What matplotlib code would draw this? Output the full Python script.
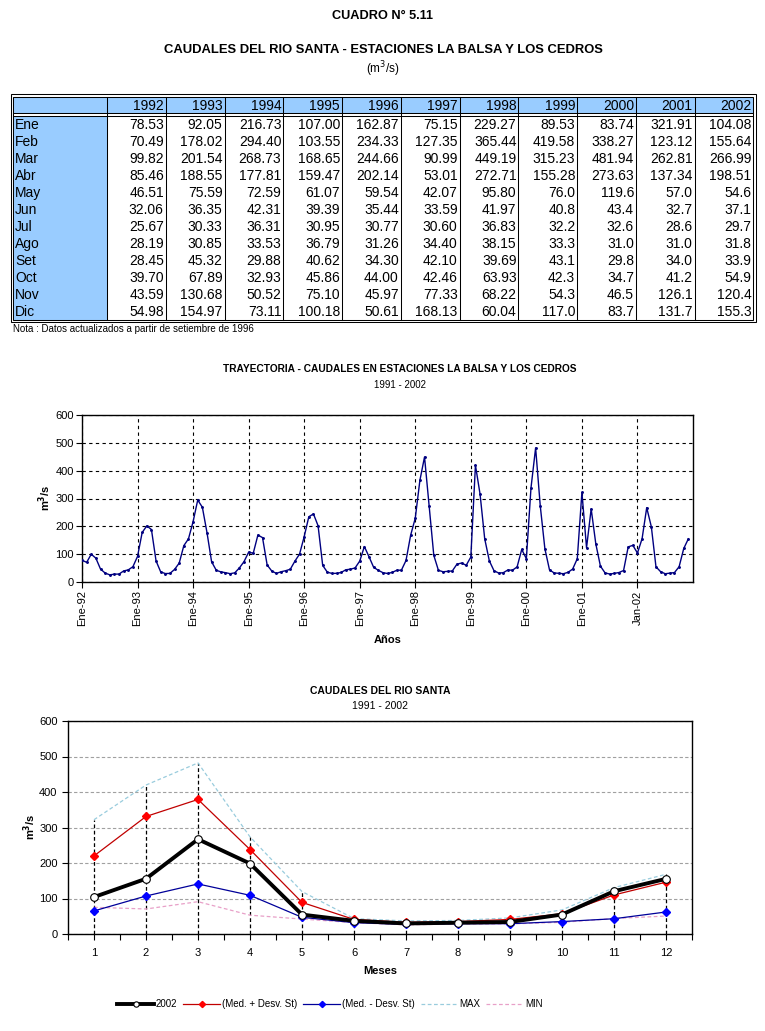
import numpy as np
import matplotlib.pyplot as plt
from matplotlib.patches import Rectangle

W, H = 765, 1031

# ---- datos del cuadro (m3/s) ----
anios = ['1992', '1993', '1994', '1995', '1996', '1997', '1998', '1999', '2000', '2001', '2002']
meses = ['Ene', 'Feb', 'Mar', 'Abr', 'May', 'Jun', 'Jul', 'Ago', 'Set', 'Oct', 'Nov', 'Dic']

q1992 = ['78.53', '70.49', '99.82', '85.46', '46.51', '32.06', '25.67', '28.19', '28.45', '39.70', '43.59', '54.98']
q1993 = ['92.05', '178.02', '201.54', '188.55', '75.59', '36.35', '30.33', '30.85', '45.32', '67.89', '130.68', '154.97']
q1994 = ['216.73', '294.40', '268.73', '177.81', '72.59', '42.31', '36.31', '33.53', '29.88', '32.93', '50.52', '73.11']
q1995 = ['107.00', '103.55', '168.65', '159.47', '61.07', '39.39', '30.95', '36.79', '40.62', '45.86', '75.10', '100.18']
q1996 = ['162.87', '234.33', '244.66', '202.14', '59.54', '35.44', '30.77', '31.26', '34.30', '44.00', '45.97', '50.61']
q1997 = ['75.15', '127.35', '90.99', '53.01', '42.07', '33.59', '30.60', '34.40', '42.10', '42.46', '77.33', '168.13']
q1998 = ['229.27', '365.44', '449.19', '272.71', '95.80', '41.97', '36.83', '38.15', '39.69', '63.93', '68.22', '60.04']
q1999 = ['89.53', '419.58', '315.23', '155.28', '76.0', '40.8', '32.2', '33.3', '43.1', '42.3', '54.3', '117.0']
q2000 = ['83.74', '338.27', '481.94', '273.63', '119.6', '43.4', '32.6', '31.0', '29.8', '34.7', '46.5', '83.7']
q2001 = ['321.91', '123.12', '262.81', '137.34', '57.0', '32.7', '28.6', '31.0', '34.0', '41.2', '126.1', '131.7']
q2002 = ['104.08', '155.64', '266.99', '198.51', '54.6', '37.1', '29.7', '31.8', '33.9', '54.9', '120.4', '155.3']
columnas = [q1992, q1993, q1994, q1995, q1996, q1997, q1998, q1999, q2000, q2001, q2002]

# ---- grafico de trayectoria ----
ticks_tray = ['Ene-92', 'Ene-93', 'Ene-94', 'Ene-95', 'Ene-96', 'Ene-97',
              'Ene-98', 'Ene-99', 'Ene-00', 'Ene-01', 'Jan-02']
serie_tray = [float(v) for col in columnas for v in col]

# ---- grafico mensual ----
mes_num = [1, 2, 3, 4, 5, 6, 7, 8, 9, 10, 11, 12]
serie_2002 = [float(v) for v in q2002]
med_mas = [220, 331, 379, 238, 89, 41, 33, 35, 41, 57, 110, 146]
med_menos = [65, 107, 141, 109, 47, 32, 27, 29, 29, 35, 43, 62]
q_max = [321.91, 419.58, 481.94, 273.63, 119.6, 43.4, 36.83, 38.15, 45.32, 67.89, 130.68, 168.13]
q_min = [75.15, 70.49, 90.99, 53.01, 42.07, 32.06, 25.67, 28.19, 28.45, 32.93, 43.59, 50.61]

ARIAL = ['Liberation Sans', 'DejaVu Sans']
plt.rcParams['font.family'] = ARIAL

fig = plt.figure(figsize=(W / 100, H / 100), dpi=100)
fig.patch.set_facecolor('white')

# capa en pixeles para el cuadro y los textos
ov = fig.add_axes([0, 0, 1, 1])
ov.set_xlim(0, W)
ov.set_ylim(H, 0)
ov.axis('off')

ov.text(383, 16, 'CUADRO N° 5.11', ha='center', va='center', fontsize=9.2, fontweight='bold')
ov.text(383, 50, 'CAUDALES DEL RIO SANTA - ESTACIONES LA BALSA Y LOS CEDROS', ha='center',
        va='center', fontsize=9.4, fontweight='bold')
ov.text(383, 69, '(m$^3$/s)', ha='center', va='center', fontsize=8.5)

# tabla
celeste = '#99CCFF'
x0, x1 = 13.5, 753.5
y0, y1 = 96.5, 319.5
col1 = 107
ancho = (x1 - col1) / len(anios)
y_head = 113
y_body = 115.5
alto = (y1 - y_body) / len(meses)
lw1 = 0.75

ov.add_patch(Rectangle((x0, y0), x1 - x0, y_head - y0, facecolor=celeste, edgecolor='none'))
ov.add_patch(Rectangle((x0, y_body), col1 - x0, y1 - y_body, facecolor=celeste, edgecolor='none'))
ov.add_patch(Rectangle((11, 94), 745, 228, facecolor='none', edgecolor='black', lw=lw1))
ov.add_patch(Rectangle((x0, y0), x1 - x0, y1 - y0, facecolor='none', edgecolor='black', lw=lw1))
ov.plot([x0, x1], [y_head, y_head], color='black', lw=lw1)
ov.plot([x0, x1], [y_body, y_body], color='black', lw=lw1)
for j in range(len(anios)):
    xe = col1 + ancho * j
    ov.plot([xe, xe], [y0, y1], color='black', lw=lw1)

for j, a in enumerate(anios):
    xr = col1 + ancho * (j + 1) - 2
    ov.text(xr, y_head - 3, a, ha='right', va='baseline', fontsize=10)
    for i, v in enumerate(columnas[j]):
        ov.text(xr, y_body + alto * (i + 1) - 3.5, v, ha='right', va='baseline', fontsize=10)
for i, m in enumerate(meses):
    ov.text(15, y_body + alto * (i + 1) - 3.5, m, ha='left', va='baseline', fontsize=10)

ov.text(13, 329, 'Nota : Datos actualizados a partir de setiembre de 1996', ha='left',
        va='center', fontsize=7)


def px_axes(left, top, right, bottom):
    return fig.add_axes([left / W, 1 - bottom / H, (right - left) / W, (bottom - top) / H])


# ---- trayectoria ----
ov.text(400, 369, 'TRAYECTORIA - CAUDALES EN ESTACIONES LA BALSA Y LOS CEDROS', ha='center',
        va='center', fontsize=7.3, fontweight='bold')
ov.text(400, 385, '1991 - 2002', ha='center', va='center', fontsize=7)

ax1 = px_axes(82, 415, 693, 582)
ax1.plot(np.arange(len(serie_tray)), serie_tray, color='#000080', lw=1.0,
         marker='o', ms=1.1, zorder=3)
ax1.set_xlim(0, 132)
ax1.set_ylim(0, 600)
ax1.set_yticks(np.arange(0, 601, 100))
ax1.set_xticks(np.arange(0, 121, 12))
ax1.set_xticklabels(ticks_tray, rotation=90)
ax1.grid(True, color='black', linestyle=(0, (3, 3)), lw=0.8)
ax1.tick_params(direction='out', length=4, width=0.8, labelsize=8, pad=2)
for s in ax1.spines.values():
    s.set_linewidth(1.0)

ov.text(45, 498, 'm$^\\mathbf{3}$/s', rotation=90, ha='center', va='center', fontsize=8,
        fontweight='bold')
ov.text(388, 640, 'Años', ha='center', va='center', fontsize=8, fontweight='bold')

# ---- caudales mensuales ----
ov.text(380, 691, 'CAUDALES DEL RIO SANTA', ha='center', va='center', fontsize=7.5,
        fontweight='bold')
ov.text(380, 706, '1991 - 2002', ha='center', va='center', fontsize=7.5)

ax2 = px_axes(68, 721, 692, 934)
tope = np.max([serie_2002, med_mas, med_menos, q_max, q_min], axis=0)
ax2.vlines(mes_num, 0, tope, colors='black', linestyles=(0, (3, 2)), lw=0.9, zorder=1)
ax2.plot(mes_num, q_max, color='#99CCDD', lw=0.9, ls=(0, (3, 2)), label='MAX', zorder=2)
ax2.plot(mes_num, q_min, color='#E8A0C8', lw=0.9, ls=(0, (3, 2)), label='MIN', zorder=2)
ax2.plot(mes_num, med_menos, color='#000099', lw=0.9, marker='D', ms=4.5, mfc='#0000FF',
         mec='#0000FF', label='(Med. - Desv. St)', zorder=3)
ax2.plot(mes_num, med_mas, color='#C00000', lw=0.9, marker='D', ms=4.5, mfc='#FF0000',
         mec='#FF0000', label='(Med. + Desv. St)', zorder=3)
ax2.plot(mes_num, serie_2002, color='black', lw=2.8, marker='o', ms=5.5, mfc='white',
         mec='black', mew=0.8, label='2002', zorder=4)
ax2.set_xlim(0.5, 12.5)
ax2.set_ylim(0, 600)
ax2.set_xticks(mes_num)
ax2.set_xticks(np.arange(0.5, 12.6, 1), minor=True)
ax2.set_yticks(np.arange(0, 601, 100))
ax2.yaxis.grid(True, color='#A0A0A0', linestyle=(0, (3, 2)), lw=0.8)
ax2.set_axisbelow(True)
ax2.tick_params(which='both', direction='out', length=4, width=0.8, labelsize=8)
ax2.tick_params(axis='x', pad=6)
for s in ax2.spines.values():
    s.set_linewidth(1.0)

ov.text(30, 827, 'm$^\\mathbf{3}$/s', rotation=90, ha='center', va='center', fontsize=8,
        fontweight='bold')
ov.text(380, 971, 'Meses', ha='center', va='center', fontsize=8, fontweight='bold')

h, l = ax2.get_legend_handles_labels()
orden = [4, 3, 2, 0, 1]
fig.legend([h[k] for k in orden], [l[k] for k in orden], ncol=5, frameon=False,
           loc='center', bbox_to_anchor=(330 / W, 1 - 1004 / H), fontsize=7,
           handlelength=3.8, handletextpad=0.2, columnspacing=0.6, markerscale=0.7)

fig.savefig('out.png', dpi=100)
